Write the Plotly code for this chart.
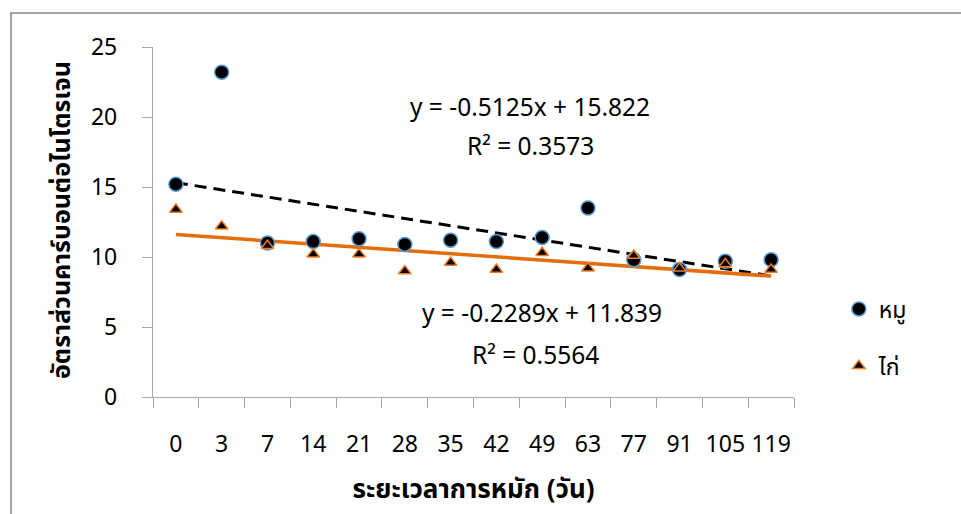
import plotly.graph_objects as go

days = ["0", "3", "7", "14", "21", "28", "35", "42", "49", "63", "77", "91", "105", "119"]
pig_cn = [15.2, 23.2, 11.0, 11.1, 11.3, 10.9, 11.2, 11.1, 11.4, 13.5, 9.8, 9.1, 9.7, 9.8]
chicken_cn = [13.4, 12.2, 10.8, 10.2, 10.2, 9.0, 9.6, 9.1, 10.3, 9.2, 10.1, 9.2, 9.5, 9.1]
pig_fit = [-0.5125, 15.822]
chicken_fit = [-0.2289, 11.839]
pig_r2 = 0.3573
chicken_r2 = 0.5564

pos = list(range(1, len(days) + 1))
FONT = "Noto Sans, Noto Sans Thai, Tahoma, sans-serif"
FS = 23
FA = 24.5

fig = go.Figure()

# trendlines
xs = [pos[0], pos[-1]]
fig.add_trace(go.Scatter(
    x=xs, y=[pig_fit[0] * x + pig_fit[1] for x in xs], mode="lines",
    line=dict(color="black", width=3, dash="12px,7px"), showlegend=False, hoverinfo="skip"))
fig.add_trace(go.Scatter(
    x=xs, y=[chicken_fit[0] * x + chicken_fit[1] for x in xs], mode="lines",
    line=dict(color="#E46C0A", width=3.5), showlegend=False, hoverinfo="skip"))

fig.add_trace(go.Scatter(
    x=pos, y=pig_cn, mode="markers", name="หมู", legendgroup="a",
    marker=dict(symbol="circle", size=14, color="black", line=dict(color="#5B9BD5", width=1.5))))
fig.add_trace(go.Scatter(
    x=pos, y=chicken_cn, mode="markers", name="ไก่", legendgroup="b",
    marker=dict(symbol="triangle-up", size=11, color="black", line=dict(color="#F07C22", width=1.5))))


def ann(text, px, py, size=FA, angle=0):
    return dict(text=text, x=(px - 153) / 641, y=(397 - py) / 350, xref="paper", yref="paper",
                xanchor="center", yanchor="middle", showarrow=False, textangle=angle,
                font=dict(size=size))


fig.update_layout(
    width=961, height=514,
    margin=dict(l=153, r=167, t=47, b=117),
    plot_bgcolor="white", paper_bgcolor="white",
    font=dict(family=FONT, size=FS, color="black"),
    legend=dict(x=1.07, y=0.17, xanchor="left", yanchor="middle",
                font=dict(size=FS), tracegroupgap=24, itemsizing="trace"),
    xaxis=dict(
        range=[0.5, len(days) + 0.5], tickvals=pos, ticktext=days, ticks="",
        showgrid=False, zeroline=False, showline=True, linecolor="#A6A6A6", linewidth=1.3,
        ticklabelstandoff=26,
        minor=dict(tickvals=[p - 0.5 for p in pos] + [pos[-1] + 0.5], ticks="outside",
                   ticklen=10, tickcolor="#A6A6A6", tickwidth=1.3, showgrid=False),
        title=dict(text="<b>ระยะเวลาการหมัก (วัน)</b>", font=dict(size=26), standoff=22),
    ),
    yaxis=dict(
        range=[0, 25], tickvals=[0, 5, 10, 15, 20, 25], ticks="outside", ticklen=10,
        tickcolor="#A6A6A6", tickwidth=1.3, showgrid=False, zeroline=False,
        showline=True, linecolor="#A6A6A6", linewidth=1.3, ticklabelstandoff=20,
    ),
    shapes=[dict(type="rect", xref="paper", yref="paper",
                 x0=(11 - 153) / 641, x1=2, y0=-2, y1=(397 - 13) / 350,
                 line=dict(color="#868686", width=1.5), fillcolor="rgba(0,0,0,0)", layer="below")],
    annotations=[
        ann(f"y = {pig_fit[0]}x + {pig_fit[1]}", 530, 107),
        ann(f"R² = {pig_r2}", 530, 145),
        ann(f"y = {chicken_fit[0]}x + {chicken_fit[1]}", 542, 312),
        ann(f"R² = {chicken_r2}", 535, 354),
        ann("<b>อัตราส่วนคาร์บอนต่อไนโตรเจน</b>", 60, 220, size=25, angle=-90),
    ],
)

fig.write_html("out.html")
